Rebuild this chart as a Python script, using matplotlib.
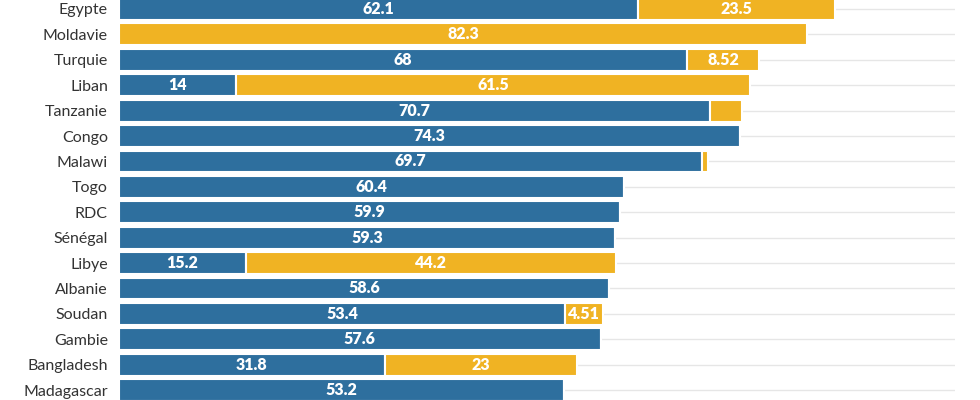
import matplotlib.pyplot as plt
import numpy as np

plt.rcParams['font.family'] = ['Lato', 'DejaVu Sans']

countries = ['Egypte', 'Moldavie', 'Turquie', 'Liban', 'Tanzanie', 'Congo', 'Malawi',
             'Togo', 'RDC', 'Sénégal', 'Libye', 'Albanie', 'Soudan', 'Gambie',
             'Bangladesh', 'Madagascar']
blue_vals = [62.1, 0, 68, 14, 70.7, 74.3, 69.7, 60.4, 59.9, 59.3, 15.2, 58.6, 53.4, 57.6, 31.8, 53.2]
yellow_vals = [23.5, 82.3, 8.52, 61.5, 3.8, 0, 0.7, 0, 0, 0, 44.2, 0, 4.51, 0, 23, 0]

blue = '#2e6f9e'
yellow = '#f0b323'

fig = plt.figure(figsize=(9.8, 4.0), dpi=100)
ax = fig.add_axes([119 / 980, 0, 836 / 980, 1])

y = np.arange(len(countries))
h = 0.86
ax.barh(y, blue_vals, height=h, color=blue, edgecolor='white', linewidth=1.5, zorder=2)
ax.barh(y, yellow_vals, left=blue_vals, height=h, color=yellow, edgecolor='white',
        linewidth=1.5, zorder=2)

for i in range(len(countries)):
    b = blue_vals[i]
    yv = yellow_vals[i]
    if b >= 4:
        ax.text(b / 2, i, f'{b:g}', ha='center', va='center', color='white',
                fontsize=11.5, fontweight='heavy', zorder=3)
    if yv >= 4:
        ax.text(b + yv / 2, i, f'{yv:g}', ha='center', va='center', color='white',
                fontsize=11.5, fontweight='heavy', zorder=3)

ax.set_xlim(0, 100)
ax.set_ylim(15.39, -0.354)
ax.set_yticks(y)
ax.set_yticklabels(countries, fontsize=11.5, color='#333333')
ax.tick_params(axis='y', length=0, pad=8)
ax.set_xticks([])
ax.yaxis.grid(True, color='#e6e6e6', linewidth=1)
ax.set_axisbelow(True)
for s in ax.spines.values():
    s.set_visible(False)

fig.savefig('out.png', dpi=100)
